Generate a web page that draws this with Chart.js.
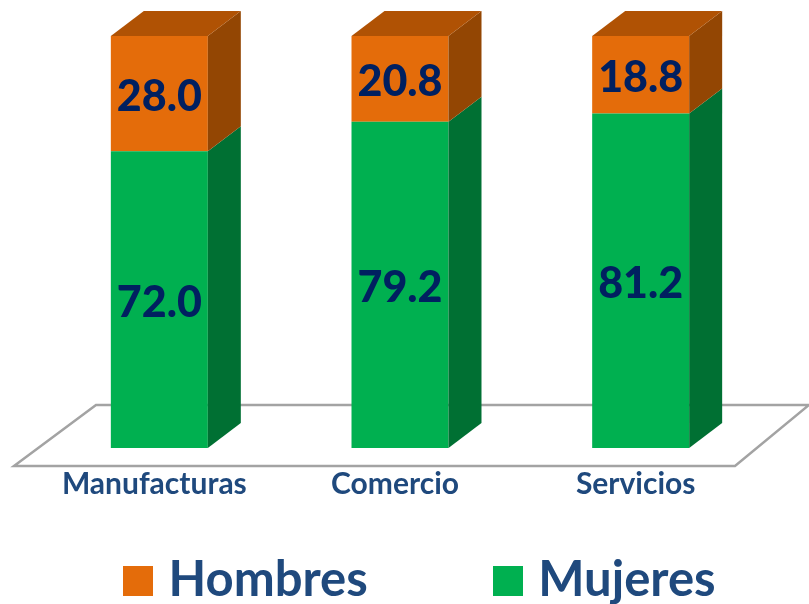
<!DOCTYPE html>
<html><head><meta charset="utf-8">
<style>html,body{margin:0;padding:0;background:#fff}#w{position:relative;width:809px;height:604px}canvas{display:block}</style>
<script src="https://cdn.jsdelivr.net/npm/chart.js@4"></script></head>
<body><div id="w"><canvas id="c" width="809" height="604"></canvas></div>
<script>
const categories = ['Manufacturas', 'Comercio', 'Servicios'];
const mujeres = [72.0, 79.2, 81.2];
const hombres = [28.0, 20.8, 18.8];
const DEPTH_X = 33, DEPTH_Y = 25;
const FONT = 'Lato, "Open Sans", sans-serif';
const BLUE = '#1f497d', NAVY = '#002060';

function swatch(color){
  const s = document.createElement('canvas'); s.width = 30; s.height = 30;
  const x = s.getContext('2d'); x.fillStyle = color; x.fillRect(0,0,30,30); return s;
}
const floor3d = {
  id:'floor3d',
  beforeDatasetsDraw(chart){
    const {ctx, chartArea:a} = chart;
    const bl = a.left-25, br = a.right-26, yb = a.bottom+18, yt = a.bottom-43;
    ctx.save();
    ctx.strokeStyle = '#a3a3a3'; ctx.lineWidth = 2.5;
    ctx.beginPath();
    ctx.moveTo(bl, yb); ctx.lineTo(br, yb); ctx.lineTo(br+74, yt); ctx.lineTo(bl+82, yt); ctx.closePath();
    ctx.stroke();
    ctx.restore();
  }
};
const sides3d = {
  id:'sides3d',
  afterDatasetsDraw(chart){
    const {ctx} = chart;
    const shades = [{side:'#007033'},{side:'#934603', top:'#b05204'}];
    ctx.save();
    chart.data.datasets.forEach((ds,di)=>{
      chart.getDatasetMeta(di).data.forEach(bar=>{
        const l = bar.x-bar.width/2, r = bar.x+bar.width/2, t = bar.y, b = bar.base;
        ctx.fillStyle = shades[di].side;
        ctx.beginPath(); ctx.moveTo(r,t); ctx.lineTo(r+DEPTH_X,t-DEPTH_Y); ctx.lineTo(r+DEPTH_X,b-DEPTH_Y); ctx.lineTo(r,b); ctx.closePath(); ctx.fill();
        if (shades[di].top){
          ctx.fillStyle = shades[di].top;
          ctx.beginPath(); ctx.moveTo(l,t); ctx.lineTo(l+DEPTH_X,t-DEPTH_Y); ctx.lineTo(r+DEPTH_X,t-DEPTH_Y); ctx.lineTo(r,t); ctx.closePath(); ctx.fill();
        }
      });
    });
    ctx.textAlign='center'; ctx.textBaseline='middle'; ctx.fillStyle=NAVY;
    ctx.font='900 43px '+FONT;
    chart.data.datasets.forEach((ds,di)=>{
      chart.getDatasetMeta(di).data.forEach((bar,i)=>{
        ctx.fillText(ds.data[i].toFixed(1), bar.x, (bar.y+bar.base)/2+3.5);
      });
    });
    ctx.restore();
  }
};
const placeLegend = {
  id:'placeLegend',
  afterLayout(chart){
    const lg = chart.legend, p = chart.options.plugins.legend.labels.padding;
    lg.left = 132 - p;
    lg.top = 556 - p;
    lg.right = 2000;
  }
};
new Chart(document.getElementById('c'),{
  type:'bar',
  data:{labels:categories,datasets:[
    {label:'Mujeres',data:mujeres,backgroundColor:'#00b050',borderWidth:0,barPercentage:0.806,categoryPercentage:0.5},
    {label:'Hombres',data:hombres,backgroundColor:'#e46c0a',borderWidth:0,barPercentage:0.806,categoryPercentage:0.5}
  ]},
  plugins:[floor3d,sides3d,placeLegend],
  options:{
    responsive:false,animation:false,
    layout:{padding:{left:39,right:48,top:36,bottom:0}},
    events:[],
    scales:{
      x:{stacked:true,grid:{display:false},border:{display:false},
        afterFit(s){s.height=60;},
        ticks:{color:BLUE,font:{family:FONT,weight:'700',size:30},padding:10,labelOffset:-5,maxRotation:0}},
      y:{stacked:true,min:0,max:100,display:false}
    },
    plugins:{
      tooltip:{enabled:false},
      legend:{position:'bottom',align:'start',maxHeight:96,reverse:true,
        labels:{
          padding:134,font:{family:FONT,weight:'700',size:49},color:BLUE,
          usePointStyle:true,pointStyleWidth:12,
          generateLabels(chart){
            return chart.data.datasets.map((d,i)=>({text:d.label,fillStyle:d.backgroundColor,strokeStyle:d.backgroundColor,lineWidth:0,datasetIndex:i,fontColor:BLUE,pointStyle:swatch(d.backgroundColor)}));
          }
        }}
    }
  }
});
</script></body></html>
